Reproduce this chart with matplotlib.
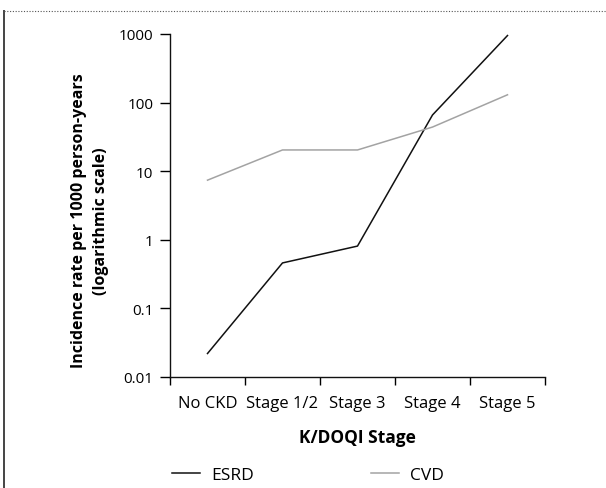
import matplotlib
matplotlib.use("Agg")
import matplotlib.pyplot as plt
from matplotlib.ticker import FixedLocator, FixedFormatter, NullLocator
from matplotlib.lines import Line2D

plt.rcParams['font.family'] = ['Open Sans', 'DejaVu Sans']

stages = ["No CKD", "Stage 1/2", "Stage 3", "Stage 4", "Stage 5"]
esrd = [0.022, 0.46, 0.81, 66, 950]
cvd = [7.4, 20.4, 20.4, 44, 130]
ytick_vals = [0.01, 0.1, 1, 10, 100, 1000]
ytick_labels = ["0.01", "0.1", "1", "10", "100", "1000"]

W, H = 606, 489
fig = plt.figure(figsize=(W / 100, H / 100), dpi=100)
ax = fig.add_axes([170 / W, 1 - 378 / H, 375 / W, 343 / H])

x = list(range(len(stages)))
l1, = ax.plot(x, esrd, color="#111111", lw=1.1, label="ESRD")
l2, = ax.plot(x, cvd, color="#a3a3a3", lw=1.1, label="CVD")

ax.set_yscale("log")
ax.set_ylim(0.01, 1000)
ax.set_xlim(-0.5, len(stages) - 0.5)
ax.yaxis.set_major_locator(FixedLocator(ytick_vals))
ax.yaxis.set_major_formatter(FixedFormatter(ytick_labels))
ax.yaxis.set_minor_locator(NullLocator())

ax.xaxis.set_major_locator(FixedLocator([i - 0.5 for i in range(len(stages) + 1)]))
ax.xaxis.set_major_formatter(FixedFormatter([""] * (len(stages) + 1)))
ax.xaxis.set_minor_locator(FixedLocator(x))
ax.xaxis.set_minor_formatter(FixedFormatter(stages))
ax.tick_params(axis="x", which="minor", length=0, pad=13, labelsize=12)
ax.tick_params(axis="x", which="major", length=6, width=1, direction="out")
ax.tick_params(axis="y", which="major", length=7, width=1, direction="out", pad=5, labelsize=11)

for s in ["top", "right"]:
    ax.spines[s].set_visible(False)
for s in ["left", "bottom"]:
    ax.spines[s].set_linewidth(1)
    ax.spines[s].set_color("#111111")

ax.set_xlabel("K/DOQI Stage", fontsize=12.5, fontweight="bold", labelpad=12)
ax.set_ylabel("Incidence rate per 1000 person-years\n(logarithmic scale)",
              fontsize=11.5, fontweight="bold", linespacing=1.45)
ax.yaxis.set_label_coords(-0.163, 0.458)

fig.legend(handles=[l1, l2], loc="center left",
           bbox_to_anchor=(172 / W, 1 - 476 / H), ncol=2, frameon=False,
           fontsize=12.5, handlelength=1.6, handletextpad=0.65,
           columnspacing=6.75, borderpad=0, borderaxespad=0)

# page border decorations
fig.add_artist(Line2D([3.5 / W, 3.5 / W], [0, 1 - 12 / H], transform=fig.transFigure,
                      color="#444444", lw=1.4))
fig.add_artist(Line2D([3.5 / W, 1], [1 - 12 / H, 1 - 12 / H], transform=fig.transFigure,
                      color="#555555", lw=0.8, linestyle=(0, (1, 1.5))))

fig.savefig("out.png", dpi=100)
